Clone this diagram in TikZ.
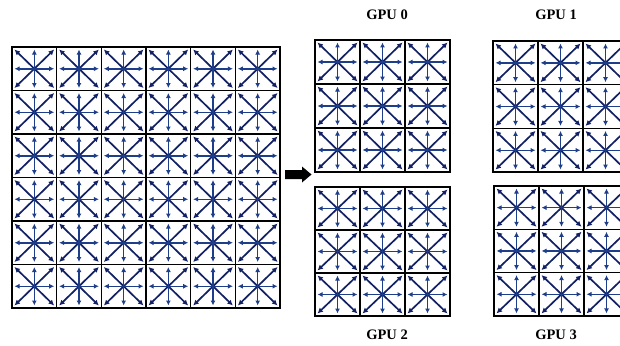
\documentclass[tikz,border=0pt]{standalone}
\usepackage{fontspec}
\setmainfont{Liberation Serif}
\usepackage{tikz}
\usetikzlibrary{arrows.meta}
\usetikzlibrary{positioning}

\definecolor{arrownavy}{RGB}{18,32,100}
\definecolor{arrowblue}{RGB}{30,62,138}

\tikzset{
  cellframe/.style={draw=black,line width=1.2pt},
  gridframe/.style={draw=black,line width=1.8pt},
  straightarrow/.style={draw=arrowblue,line width=1.5pt,-{Latex[length=5pt,width=5pt]}},
  diagarrow/.style={draw=arrownavy,line width=1.7pt,-{Latex[length=5.5pt,width=5.5pt]}},
  gpulabel/.style={font=\fontsize{14.5}{16}\selectfont\bfseries,inner sep=0pt}
}

% one cell: top-left x, top-left y, width, height
\newcommand{\gridcell}[4]{%
  \pgfmathsetmacro{\cx}{#1+#3/2}
  \pgfmathsetmacro{\cy}{#2+#4/2}
  \pgfmathsetmacro{\rx}{#3/2-2.5}
  \pgfmathsetmacro{\ry}{#4/2-2.5}
  \foreach \dx/\dy in {1/1,1/-1,-1/1,-1/-1}
    \draw[diagarrow] (\cx,\cy) -- ++({\dx*\rx},{\dy*\ry});
  \foreach \dx/\dy in {1/0,-1/0,0/1,0/-1}
    \draw[straightarrow] (\cx,\cy) -- ++({\dx*\rx},{\dy*\ry});
  \draw[cellframe] ({#1},{#2}) rectangle ++({#3},{#4});
}

% block of cells: x, y, columns, rows, cell width, cell height
\newcommand{\cellgrid}[6]{%
  \foreach \i in {1,...,#3}
    \foreach \j in {1,...,#4}{
      \pgfmathsetmacro{\px}{#1+(\i-1)*#5}
      \pgfmathsetmacro{\py}{#2+(\j-1)*#6}
      \gridcell{\px}{\py}{#5}{#6}
    }
  \draw[gridframe] (#1,#2) rectangle ++({#3*#5},{#4*#6});
}

\begin{document}
\begin{tikzpicture}[x=1pt,y=-1pt]
  \clip (0,0) rectangle (620,345);

  % whole domain
  \cellgrid{12}{47}{6}{6}{44.67}{43.5}

  % split arrow
  \fill[black] (285,170) -- (302,170) -- (302,166.5) -- (311.5,174.5)
    -- (302,182.5) -- (302,179) -- (285,179) -- cycle;

  % the four parts
  \cellgrid{315}{40}{3}{3}{45}{44}
  \cellgrid{493}{41}{3}{3}{45}{43.7}
  \cellgrid{315}{187}{3}{3}{45}{43}
  \cellgrid{494}{186}{3}{3}{45}{43.3}

  \node[gpulabel] (gpu0) at (387,15) {GPU 0};
  \node[gpulabel] (gpu1) at (556,15) {GPU 1};
  \node[gpulabel] (gpu2) at (387,335) {GPU 2};
  \node[gpulabel] (gpu3) at (556,335) {GPU 3};
\end{tikzpicture}
\end{document}
